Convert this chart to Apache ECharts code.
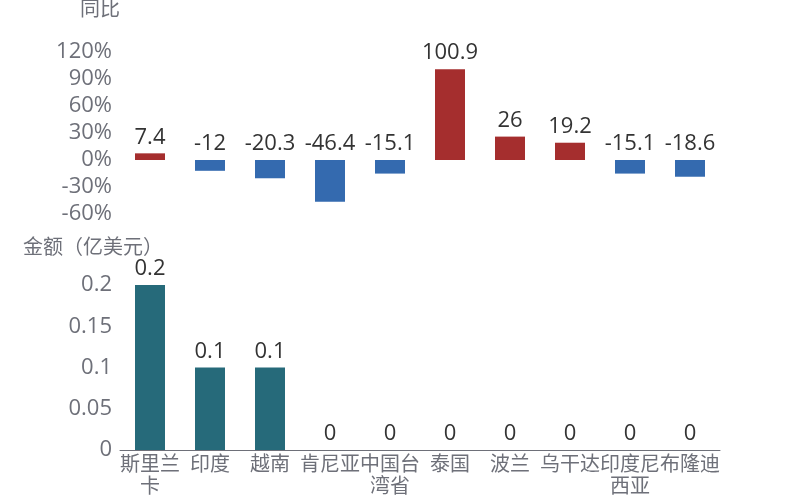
<!DOCTYPE html>
<html>
<head>
<meta charset="utf-8">
<script src="https://cdn.jsdelivr.net/npm/echarts@6/dist/echarts.min.js"></script>
<style>
  html, body { margin: 0; padding: 0; background: #fff; }
  #chart { width: 800px; height: 500px; }
</style>
</head>
<body>
<div id="chart"></div>
<script>
// 国家/地区
const categories = ["斯里兰卡", "印度", "越南", "肯尼亚", "中国台湾省", "泰国", "波兰", "乌干达", "印度尼西亚", "布隆迪"];
// 同比 (%)
const yoyValues = [7.4, -12, -20.3, -46.4, -15.1, 100.9, 26, 19.2, -15.1, -18.6];
// 金额（亿美元）
const amountValues = [0.2, 0.1, 0.1, 0, 0, 0, 0, 0, 0, 0];

const FONT = "'Open Sans', 'Noto Sans CJK SC', sans-serif";
const axisGray = "#6e7079";

let chart = echarts.init(document.getElementById("chart"));
let option = {
  textStyle: { fontFamily: FONT },
  grid: [
    { left: 120, right: 80, top: 49, height: 165 },
    { left: 120, right: 80, top: 285, bottom: 50 },
  ],
  xAxis: [
    {
      type: "category",
      gridIndex: 0,
      data: categories,
      show: false,
    },
    {
      type: "category",
      gridIndex: 1,
      data: categories,
      axisLine: { lineStyle: { color: axisGray } },
      axisTick: { alignWithLabel: true, length: 5 },
      axisLabel: {
        interval: 0,
        color: axisGray,
        fontSize: 20,
        fontFamily: FONT,
        width: 60,
        overflow: "break",
        lineHeight: 22,
        margin: 4,
      },
    },
  ],
  yAxis: [
    {
      type: "value",
      gridIndex: 0,
      name: "同比",
      nameGap: 32,
      nameTextStyle: { color: axisGray, fontSize: 20, fontFamily: FONT, padding: [0, 40, 0, 0] },
      min: -60,
      max: 120,
      interval: 30,
      splitLine: { show: false },
      axisLine: { show: false },
      axisTick: { show: false },
      axisLabel: { color: axisGray, fontSize: 22, fontFamily: FONT, formatter: "{value}%", margin: 8 },
    },
    {
      type: "value",
      gridIndex: 1,
      name: "金额（亿美元）",
      nameGap: 27,
      nameTextStyle: { color: axisGray, fontSize: 20, fontFamily: FONT, padding: [0, 54, 0, 0] },
      min: 0,
      max: 0.2,
      interval: 0.05,
      splitLine: { show: false },
      axisLine: { show: false },
      axisTick: { show: false },
      axisLabel: { color: axisGray, fontSize: 22, fontFamily: FONT, margin: 8 },
    },
  ],
  series: [
    {
      name: "同比",
      type: "bar",
      xAxisIndex: 0,
      yAxisIndex: 0,
      barWidth: 30,
      data: yoyValues,
      itemStyle: {
        color: (p) => (p.value >= 0 ? "#a52e2e" : "#346aaf"),
      },
      label: {
        show: true,
        position: "top",
        color: "#333",
        fontSize: 22,
        fontFamily: FONT,
      },
    },
    {
      name: "金额",
      type: "bar",
      xAxisIndex: 1,
      yAxisIndex: 1,
      barWidth: 30,
      data: amountValues,
      itemStyle: { color: "#266a7a" },
      label: {
        show: true,
        position: "top",
        color: "#333",
        fontSize: 22,
        fontFamily: FONT,
      },
    },
  ],
};
chart.setOption(option);
</script>
</body>
</html>
